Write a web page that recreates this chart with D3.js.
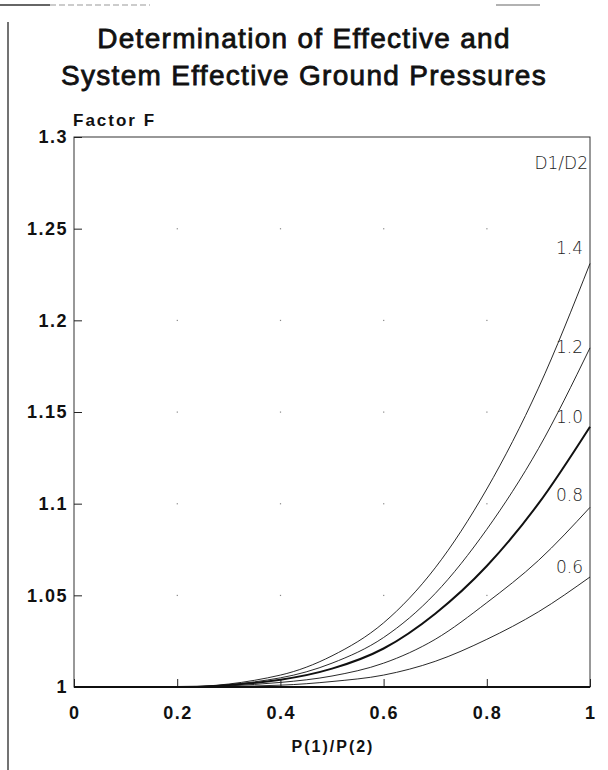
<!DOCTYPE html>
<html>
<head>
<meta charset="utf-8">
<script src="https://cdn.jsdelivr.net/npm/d3@7"></script>
<style>
  body { margin: 0; background: #fff; }
  svg { display: block; }
</style>
</head>
<body>
<div id="chart"></div>
<script>

// data
var ratios = [0, 0.2, 0.4, 0.5, 0.6, 0.7, 0.8, 0.9, 1.0];
var f14 = [1, 1.000, 1.0065, 1.017, 1.035, 1.065, 1.108, 1.163, 1.231];
var f12 = [1, 1.000, 1.005, 1.013, 1.027, 1.051, 1.086, 1.130, 1.185];
var f10 = [1, 1.000, 1.004, 1.010, 1.021, 1.040, 1.066, 1.100, 1.142];
var f08 = [1, 1.000, 1.0025, 1.006, 1.013, 1.026, 1.046, 1.069, 1.098];
var f06 = [1, 1.000, 1.001, 1.003, 1.0065, 1.014, 1.026, 1.041, 1.060];
var seriesNames = ["1.4", "1.2", "1.0", "0.8", "0.6"];
var xTicks = [0, 0.2, 0.4, 0.6, 0.8, 1];
var yTicks = [1, 1.05, 1.1, 1.15, 1.2, 1.25, 1.3];

var series = [f14, f12, f10, f08, f06].map(function(vals, i) {
  return {
    name: seriesNames[i],
    values: vals.map(function(v, j) { return {x: ratios[j], y: v}; })
  };
});

var W = 608, H = 770;
var margin = {top: 137, right: 18, bottom: 83, left: 74},
    width = W - margin.left - margin.right,
    height = H - margin.top - margin.bottom;

var svg = d3.select("#chart").append("svg")
    .attr("width", W)
    .attr("height", H);

// page edges from the scan
svg.append("line").attr("x1", 8).attr("x2", 8).attr("y1", 22).attr("y2", H)
    .style("stroke", "#444").style("stroke-width", 1.5);
svg.append("line").attr("x1", 0).attr("x2", 50).attr("y1", 5).attr("y2", 5)
    .style("stroke", "#333").style("stroke-width", 1.5);
svg.append("line").attr("x1", 50).attr("x2", 150).attr("y1", 5).attr("y2", 5)
    .style("stroke", "#999").style("stroke-width", 1).style("stroke-dasharray", "6,3");
svg.append("line").attr("x1", 496).attr("x2", 540).attr("y1", 5).attr("y2", 5)
    .style("stroke", "#666").style("stroke-width", 1.2);

// title
var title = svg.append("text")
    .attr("x", W / 2)
    .attr("text-anchor", "middle")
    .style("font-family", "'Liberation Sans', Arial, sans-serif")
    .style("font-size", "28px")
    .style("letter-spacing", "1.3px")
    .style("fill", "#111")
    .style("stroke", "#111")
    .style("stroke-width", 0.8);
title.append("tspan").attr("x", W / 2).attr("y", 48).text("Determination of Effective and");
title.append("tspan").attr("x", W / 2).attr("y", 85).text("System Effective Ground Pressures");

var g = svg.append("g")
    .attr("transform", "translate(" + margin.left + "," + margin.top + ")");

var x = d3.scaleLinear().domain([0, 1]).range([0, width]);
var y = d3.scaleLinear().domain([1, 1.3]).range([height, 0]);

// faint grid dots
xTicks.forEach(function(tx) {
  yTicks.forEach(function(ty) {
    if (tx === 0 || ty === 1 || ty === 1.3 || tx === 1) return;
    g.append("rect")
        .attr("x", x(tx) - 0.5).attr("y", y(ty) - 0.5)
        .attr("width", 1.2).attr("height", 1.2)
        .style("fill", "#888");
  });
});

// frame
g.append("rect")
    .attr("width", width)
    .attr("height", height)
    .style("fill", "none")
    .style("stroke", "#333")
    .style("stroke-width", 1);

var tickFont = "'Liberation Sans', Arial, sans-serif";

// y axis, ticks pointing inward
var yAxis = g.append("g")
    .call(d3.axisRight(y).tickValues(yTicks).tickSize(8).tickFormat(""));
yAxis.select(".domain").remove();
yAxis.selectAll("line").style("stroke", "#222");

g.selectAll(".ylab")
    .data(yTicks)
  .enter().append("text")
    .attr("class", "ylab")
    .attr("x", -6)
    .attr("y", function(d) { return y(d); })
    .attr("dy", "0.36em")
    .attr("text-anchor", "end")
    .style("font-family", tickFont)
    .style("font-weight", "bold")
    .style("font-size", "18px")
    .style("letter-spacing", "1.5px")
    .style("fill", "#111")
    .text(function(d) { return d3.format("")(d); });

// x axis, ticks pointing up
var xAxis = g.append("g")
    .attr("transform", "translate(0," + height + ")")
    .call(d3.axisTop(x).tickValues(xTicks).tickSize(8).tickFormat(""));
xAxis.select(".domain").remove();
xAxis.selectAll("line").style("stroke", "#222");

g.append("line")
    .attr("x1", 0).attr("x2", width)
    .attr("y1", height).attr("y2", height)
    .style("stroke", "#111").style("stroke-width", 2);

g.selectAll(".xlab")
    .data(xTicks)
  .enter().append("text")
    .attr("class", "xlab")
    .attr("x", function(d) { return x(d) + 0.75; })
    .attr("y", height + 26)
    .attr("dy", "0.36em")
    .attr("text-anchor", "middle")
    .style("font-family", tickFont)
    .style("font-weight", "bold")
    .style("font-size", "18px")
    .style("letter-spacing", "1.5px")
    .style("fill", "#111")
    .text(function(d) { return d3.format("")(d); });

// axis titles
svg.append("text")
    .attr("x", 73)
    .attr("y", 126)
    .style("font-family", tickFont)
    .style("font-weight", "bold")
    .style("font-size", "17px")
    .style("letter-spacing", "2px")
    .style("fill", "#111")
    .text("Factor F");

g.append("text")
    .attr("x", width / 2 + 1)
    .attr("y", height + 59)
    .attr("dy", "0.36em")
    .attr("text-anchor", "middle")
    .style("font-family", tickFont)
    .style("font-weight", "bold")
    .style("font-size", "16px")
    .style("letter-spacing", "2px")
    .style("fill", "#111")
    .text("P(1)/P(2)");

// curves
var line = d3.line()
    .x(function(d) { return x(d.x); })
    .y(function(d) { return y(d.y); })
    .curve(d3.curveMonotoneX);

g.selectAll(".curve")
    .data(series)
  .enter().append("path")
    .attr("class", "curve")
    .attr("d", function(d) { return line(d.values); })
    .style("fill", "none")
    .style("stroke", "#111")
    .style("stroke-width", function(d) { return d.name === "1.0" ? 2 : 0.9; });

// curve labels
var labelFont = "'DejaVu Sans', sans-serif";
var labelY = {"1.4": 1.2394, "1.2": 1.1854, "1.0": 1.1472, "0.8": 1.1047, "0.6": 1.0654};

g.append("text")
    .attr("x", width - 2)
    .attr("y", y(1.2858))
    .attr("dy", "0.36em")
    .attr("text-anchor", "end")
    .style("font-family", labelFont)
    .style("font-weight", "200")
    .style("font-size", "17px")
    .style("fill", "#222")
    .text("D1/D2");

g.selectAll(".clab")
    .data(series)
  .enter().append("text")
    .attr("class", "clab")
    .attr("x", width - 7)
    .attr("y", function(d) { return y(labelY[d.name]); })
    .attr("dy", "0.36em")
    .attr("text-anchor", "end")
    .style("font-family", labelFont)
    .style("font-weight", "200")
    .style("font-size", "17px")
    .style("fill", "#222")
    .text(function(d) { return d.name; });

</script>
</body>
</html>
